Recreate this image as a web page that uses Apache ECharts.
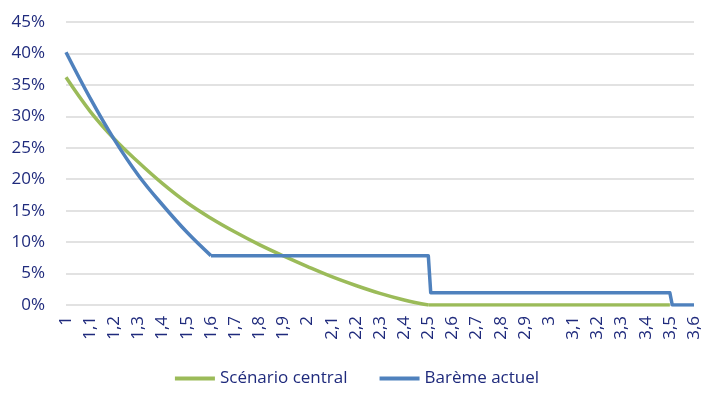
<!DOCTYPE html>
<html>
<head>
<meta charset="utf-8">
<script src="https://cdn.jsdelivr.net/npm/echarts@6/dist/echarts.min.js"></script>
<style>html,body{margin:0;padding:0;background:#fff;}#c{width:714px;height:396px;}</style>
</head>
<body>
<div id="c"></div>
<script>
// Scénario central (smooth part then flat zero)
const greenCurveX = [1.0, 1.1, 1.2, 1.3, 1.4, 1.5, 1.6, 1.7, 1.8, 1.9, 2.0, 2.1, 2.2, 2.3, 2.4, 2.5];
const greenCurveY = [36.2, 30.8, 26.4, 22.7, 19.3, 16.3, 13.8, 11.6, 9.6, 7.8, 6.1, 4.5, 3.1, 1.85, 0.8, 0];
const greenFlatX = [2.5, 3.5];
const greenFlatY = [0, 0];
// Barème actuel (smooth part then steps)
const blueCurveX = [1.0, 1.1, 1.2, 1.3, 1.4, 1.5, 1.6];
const blueCurveY = [40.2, 32.9, 26.3, 20.6, 15.9, 11.6, 7.85];
const blueStepX = [1.6, 2.5, 2.51, 3.5, 3.51, 3.6];
const blueStepY = [7.85, 7.85, 1.95, 1.95, 0, 0];

const yTicks = [0, 5, 10, 15, 20, 25, 30, 35, 40, 45];

const NAVY = '#1f2a7c';
const GREEN = '#9bbb59';
const BLUE = '#4f81bd';
const pairs = (xs, ys) => xs.map((x, i) => [x, ys[i]]);

const chart = echarts.init(document.getElementById('c'));
chart.setOption({
  animation: false,
  textStyle: { fontFamily: 'Open Sans' },
  grid: { left: 66, right: 20, top: 22, bottom: 91 },
  legend: {
    bottom: 4,
    left: 'center',
    data: ['Scénario central', 'Barème actuel'],
    icon: 'rect',
    itemWidth: 40,
    itemHeight: 4,
    itemGap: 32,
    textStyle: { color: NAVY, fontSize: 17, fontFamily: 'Open Sans' }
  },
  xAxis: {
    type: 'value',
    min: 1,
    max: 3.6,
    interval: 0.1,
    axisLine: { show: false },
    axisTick: { show: false },
    splitLine: { show: false },
    axisLabel: {
      rotate: 90,
      margin: 11,
      color: NAVY,
      fontSize: 17,
      formatter: v => (Math.round(v * 10) / 10).toString().replace('.', ',')
    }
  },
  yAxis: {
    type: 'value',
    min: yTicks[0],
    max: yTicks[yTicks.length - 1],
    interval: 5,
    axisLine: { show: false },
    axisTick: { show: false },
    splitLine: { lineStyle: { color: '#d9d9d9', width: 1.5 } },
    axisLabel: { color: NAVY, fontSize: 17, margin: 21, formatter: '{value}%' }
  },
  series: [
    { name: 'Scénario central', type: 'line', smooth: 0.4, showSymbol: false, color: GREEN,
      lineStyle: { width: 3.5, color: GREEN }, data: pairs(greenCurveX, greenCurveY) },
    { name: 'Scénario central', type: 'line', showSymbol: false, color: GREEN,
      lineStyle: { width: 3.5, color: GREEN }, data: pairs(greenFlatX, greenFlatY) },
    { name: 'Barème actuel', type: 'line', smooth: 0.4, showSymbol: false, color: BLUE,
      lineStyle: { width: 3.5, color: BLUE }, data: pairs(blueCurveX, blueCurveY) },
    { name: 'Barème actuel', type: 'line', showSymbol: false, color: BLUE,
      lineStyle: { width: 3.5, color: BLUE, join: 'round' }, data: pairs(blueStepX, blueStepY) }
  ]
});
</script>
</body>
</html>
